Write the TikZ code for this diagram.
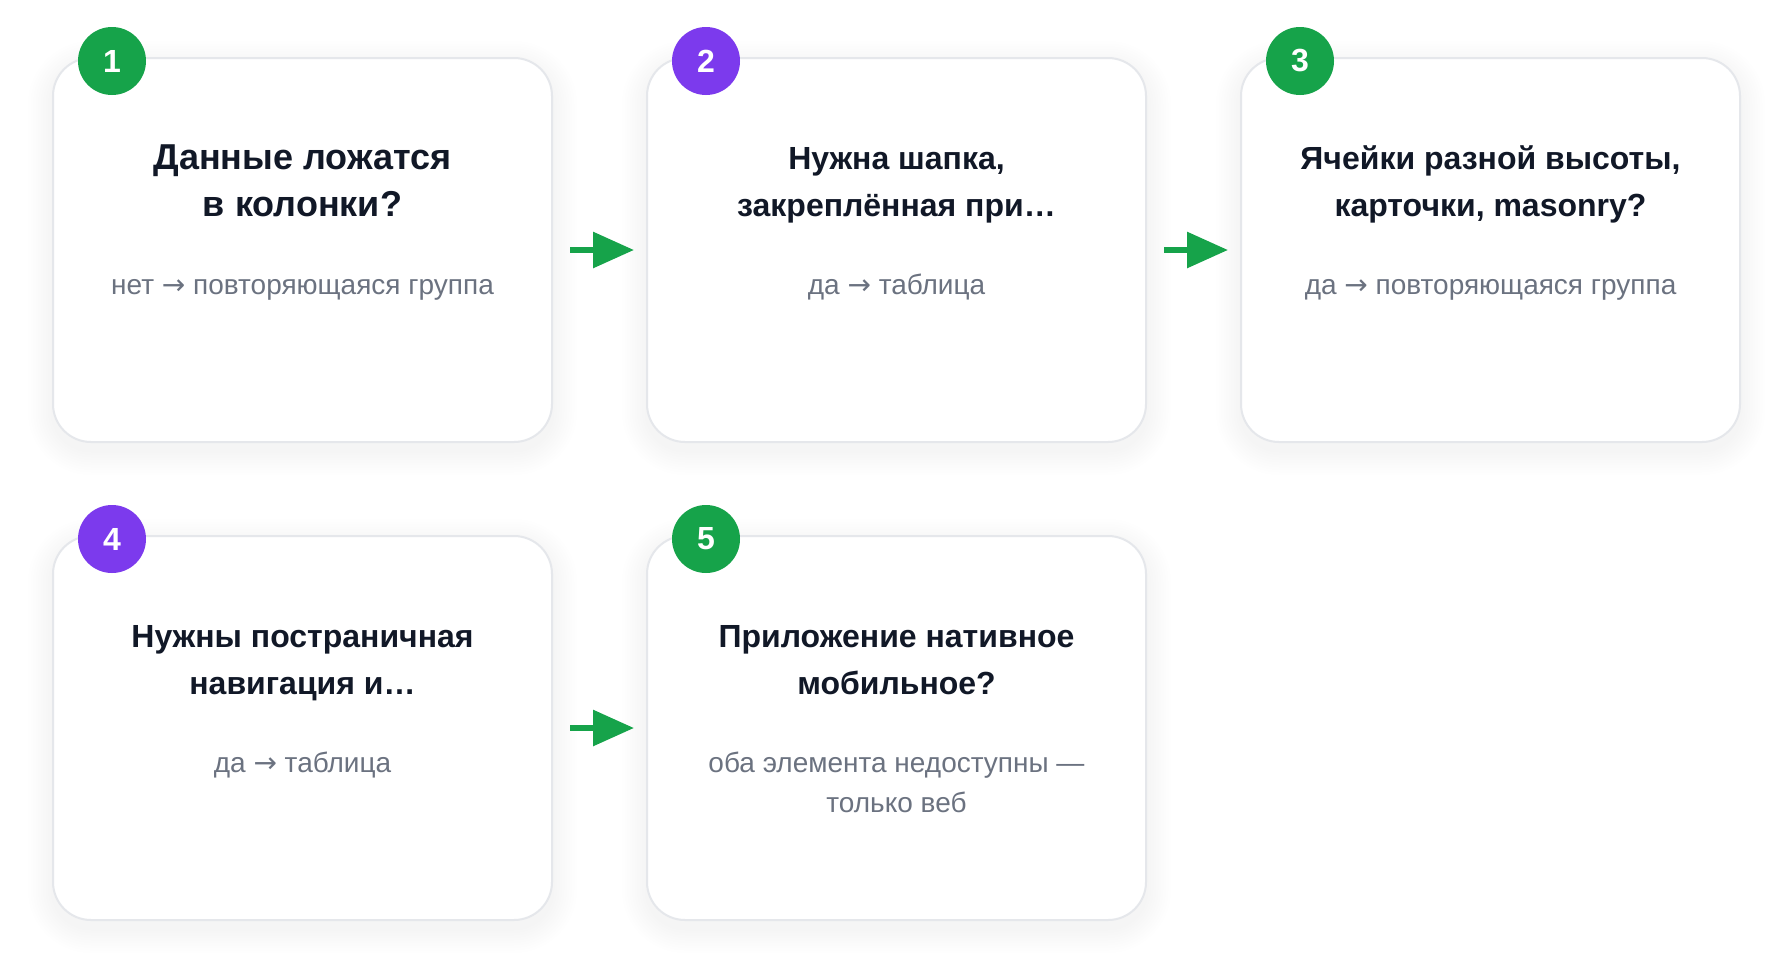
\documentclass[tikz,border=0pt]{standalone}
\usepackage{fontspec}
\setmainfont{Liberation Sans}
\newfontfamily\arrowfont{DejaVu Sans}
\newcommand\goesto{{\arrowfont →}}
\usetikzlibrary{positioning,arrows.meta,calc,backgrounds}
\definecolor{okgreen}{HTML}{16A34A}
\definecolor{violet}{HTML}{7C3AED}
\definecolor{ink}{HTML}{111827}
\definecolor{muted}{HTML}{6B7280}
\definecolor{edge}{HTML}{E5E7EB}

\begin{document}
\begin{tikzpicture}[x=1pt,y=-1pt,
  card/.style={rectangle,draw=edge,line width=2pt,fill=white,rounded corners=38pt,
    minimum width=499pt,minimum height=384pt,inner sep=0pt},
  haze/.style={rectangle,fill=black,opacity=.005,inner sep=0pt,rounded corners=38pt+2.5pt*#1,
    minimum width=499pt+5pt*#1,minimum height=384pt+5pt*#1},
  badge/.style={circle,minimum size=68pt,inner sep=0pt,text=white,font=\fontsize{32}{32}\selectfont\bfseries},
  title/.style={align=center,text=ink,font=\fontsize{32}{47}\selectfont\bfseries,anchor=base},
  note/.style={align=center,text=muted,font=\fontsize{28}{40}\selectfont,anchor=base},
  flow/.style={-{Triangle[length=41pt,width=35pt]},okgreen,line width=6pt,shorten <=17pt,shorten >=12pt},
  node distance=93pt]
\useasboundingbox (0,0) rectangle (1790,977);
\node[card] (c1) at (302.5,250) {};
\node[card] (c2) [right=of c1] {};
\node[card] (c3) [right=of c2] {};
\node[card] (c4) [below=92pt of c1] {};
\node[card] (c5) [right=of c4] {};
\begin{scope}[on background layer]
\fill[white] (0,0) rectangle (1790,977);
\foreach \c in {c1,c2,c3,c4,c5}
  \foreach \i in {1,...,10}
    \node[haze=\i] at ($(\c)+(0,8)$) {};
\end{scope}
\draw[flow] (c1) -- (c2);
\draw[flow] (c2) -- (c3);
\draw[flow] (c4) -- (c5);
\node[badge,fill=okgreen] (b1) at ($(c1.north west)+(60,4)$) {1};
\node[badge,fill=violet] (b2) at ($(c2.north west)+(60,4)$) {2};
\node[badge,fill=okgreen] (b3) at ($(c3.north west)+(60,4)$) {3};
\node[badge,fill=violet] (b4) at ($(c4.north west)+(60,4)$) {4};
\node[badge,fill=okgreen] (b5) at ($(c5.north west)+(60,4)$) {5};
\node[title,font=\fontsize{36}{47}\selectfont\bfseries] (t1) at ($(c1.north)+(0,159)$) {Данные ложатся\\в колонки?};
\node[title] (t2) at ($(c2.north)+(0,159)$) {Нужна шапка,\\закреплённая при…};
\node[title] (t3) at ($(c3.north)+(0,159)$) {Ячейки разной высоты,\\карточки, masonry?};
\node[title] (t4) at ($(c4.north)+(0,159)$) {Нужны постраничная\\навигация и…};
\node[title] (t5) at ($(c5.north)+(0,159)$) {Приложение нативное\\мобильное?};
\node[note] (s1) at ($(c1.north)+(0,237)$) {нет \goesto{} повторяющаяся группа};
\node[note] (s2) at ($(c2.north)+(0,237)$) {да \goesto{} таблица};
\node[note] (s3) at ($(c3.north)+(0,237)$) {да \goesto{} повторяющаяся группа};
\node[note] (s4) at ($(c4.north)+(0,237)$) {да \goesto{} таблица};
\node[note] (s5) at ($(c5.north)+(0,277)$) {оба элемента недоступны —\\только веб};
\end{tikzpicture}
\end{document}
